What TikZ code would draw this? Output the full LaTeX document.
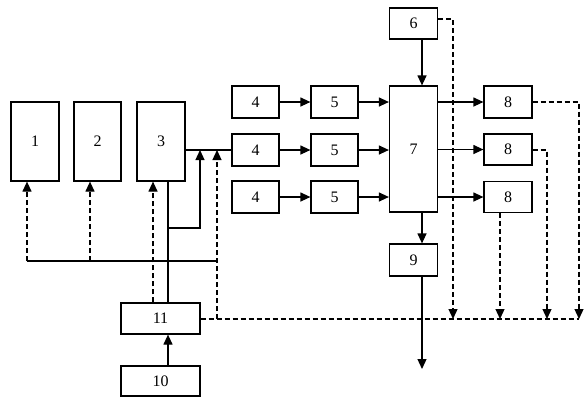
\documentclass[tikz,border=0pt]{standalone}
\usepackage{fontspec}
\setmainfont{Liberation Serif}
\usetikzlibrary{arrows.meta}
\begin{document}
\begin{tikzpicture}[x=1pt,y=-1pt,
  blk/.style={draw,line width=1.2pt,inner sep=0pt,font=\fontsize{16}{16}\selectfont},
  ln/.style={line width=1.2pt},
  arr/.style={line width=1.2pt,-{Triangle[length=10pt,width=9pt]}},
  dsh/.style={line width=1.2pt,dash pattern=on 5pt off 3pt},
  darr/.style={dsh,-{Triangle[length=10pt,width=9pt]}}]
\useasboundingbox (0,0) rectangle (588,405);
\node[blk,minimum width=48,minimum height=79] (b1) at (35,141.5) {1};
\node[blk,minimum width=47,minimum height=79] (b2) at (97.5,141.5) {2};
\node[blk,minimum width=48,minimum height=79] (b3) at (161,141.5) {3};
\node[blk,minimum width=47,minimum height=32] (b4a) at (255.5,102) {4};
\node[blk,minimum width=47,minimum height=32] (b4b) at (255.5,150) {4};
\node[blk,minimum width=47,minimum height=32] (b4c) at (255.5,197) {4};
\node[blk,minimum width=47,minimum height=32] (b5a) at (334.5,102) {5};
\node[blk,minimum width=47,minimum height=32] (b5b) at (334.5,150) {5};
\node[blk,minimum width=47,minimum height=32] (b5c) at (334.5,197) {5};
\node[blk,minimum width=48,minimum height=126] (b7) at (413.5,149) {7};
\node[blk,minimum width=48,minimum height=31] (b6) at (413.5,23.5) {6};
\node[blk,minimum width=48,minimum height=32] (b9) at (413.5,260) {9};
\node[blk,minimum width=48,minimum height=32] (b8a) at (508,102) {8};
\node[blk,minimum width=48,minimum height=31] (b8b) at (508,149.5) {8};
\node[blk,minimum width=48,minimum height=31] (b8c) at (508,197) {8};
\node[blk,minimum width=79,minimum height=31] (b11) at (160.5,318.5) {11};
\node[blk,minimum width=79,minimum height=30] (b10) at (160.5,381) {10};
% coordinates
\coordinate (pA) at (200,150);
\coordinate (pB) at (217,150);
\coordinate (c1) at (168,228);
\coordinate (c2) at (200,228);
\coordinate (h1) at (27,261);
\coordinate (h2) at (90,261);
\coordinate (h3) at (217,261);
\coordinate (d1) at (217,319);
\coordinate (d2) at (453,319);
\coordinate (d3) at (500,319);
\coordinate (d4) at (547,319);
\coordinate (d5) at (579,319);
\coordinate (e6) at (453,19);
\coordinate (e8a) at (579,102);
\coordinate (e8b) at (547,150);
\coordinate (out9) at (422,369);
% solid connections
\draw[ln] (b3.east |- pA) -- (b4b.west);
\draw[ln] (b3.south -| c1) -- (b11.north -| c1);
\draw[arr] (c1) -- (c2) -- (pA);
\draw[ln] (h1) -- (h3);
\draw[arr] (b10.north -| c1) -- (b11.south -| c1);
\foreach \r in {a,b,c}{
  \draw[arr] (b4\r) -- (b5\r);
  \draw[arr] (b5\r.east) -- (b7.west |- b5\r);
  \draw[arr] (b7.east |- b8\r) -- (b8\r.west);
}
\draw[arr] (b6.south -| out9) -- (b7.north -| out9);
\draw[arr] (b7.south -| out9) -- (b9.north -| out9);
\draw[arr] (b9.south -| out9) -- (out9);
% dashed
\draw[darr] (h1) -- (b1.south -| h1);
\draw[darr] (h2) -- (b2.south -| h2);
\draw[darr] (b11.north -| 153,0) -- (b3.south -| 153,0);
\draw[darr] (d1) -- (pB);
\draw[dsh] (b11.east |- d1) -- (d5);
\draw[darr] (b6.east |- e6) -- (e6) -- (d2);
\draw[darr] (b8a.east) -- (e8a) -- (d5);
\draw[darr] (b8b.east |- e8b) -- (e8b) -- (d4);
\draw[darr] (b8c.south -| d3) -- (d3);
\end{tikzpicture}
\end{document}
